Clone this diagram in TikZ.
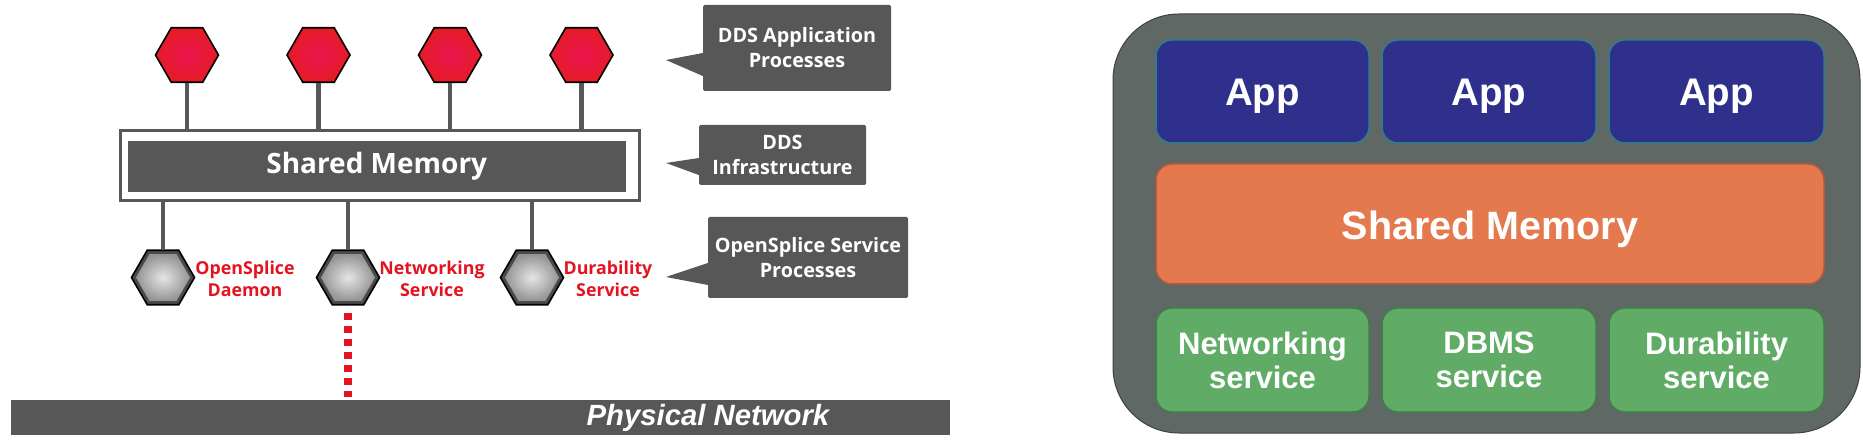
\documentclass[tikz,border=0pt]{standalone}
\usepackage{fontspec}
\setmainfont{Liberation Sans}
\newfontfamily\opensans{Open Sans}
\usetikzlibrary{shapes.geometric,calc}
\definecolor{slate}{HTML}{575757}
\definecolor{redhex}{HTML}{E41C26}
\definecolor{redcore}{HTML}{EC1450}
\definecolor{redlabel}{HTML}{E5131F}
\definecolor{panel}{HTML}{606865}
\definecolor{navy}{HTML}{2E308B}
\definecolor{navyedge}{HTML}{2F7C8C}
\definecolor{orangefill}{HTML}{E4794D}
\definecolor{orangeedge}{HTML}{B25A38}
\definecolor{greenfill}{HTML}{60AC67}
\definecolor{greenedge}{HTML}{3F8048}
\tikzset{
  x=1pt,y=-1pt,
  hexbase/.style={regular polygon,regular polygon sides=6,inner sep=0pt,minimum size=63pt,line width=1.6pt,draw=black},
  redproc/.style={hexbase,inner color=redcore,outer color=redhex},
  greyproc/.style={hexbase,fill=slate!85!black},
  greycore/.style={regular polygon,regular polygon sides=6,inner sep=0pt,minimum size=54pt,inner color=white!90!black,outer color=black!42},
  stem/.style={draw=slate,line width=4.5pt},
  slab/.style={fill=slate,text=white,inner sep=0pt,rectangle},
  calloutbox/.style={slab,rounded corners=1.5pt,align=center,font=\opensans\bfseries\fontsize{19.8}{25}\selectfont},
  redlab/.style={text=redlabel,align=center,inner sep=0pt,font=\opensans\bfseries\fontsize{17.8}{22.5}\selectfont},
  rbox/.style={rectangle,rounded corners=16pt,inner sep=0pt,line width=1.5pt,text=white,align=center},
  appbox/.style={rbox,draw=navyedge,fill=navy,text depth=0pt,font=\bfseries\fontsize{38.5}{40}\selectfont},
  svcbox/.style={rbox,draw=greenedge,fill=greenfill,font=\bfseries\fontsize{31}{34}\selectfont},
}
\newcommand{\boxat}[7]{\node[#1,minimum width=#4-#3,minimum height=#6-#5] (#2) at ({(#3+#4)/2},{(#5+#6)/2}) {#7};}
\begin{document}
\begin{tikzpicture}
\useasboundingbox (0,0) rectangle (1863,446);
% left: shared memory
\node[rectangle,draw=slate,fill=white,line width=3pt,minimum width=519pt,minimum height=70pt,inner sep=0pt,outer sep=0pt] (outer) at (379.5,166) {};
\boxat{slab,font=\opensans\bfseries\fontsize{28}{30}\selectfont}{shm}{128}{625.5}{141}{192}{Shared Memory}
% app hexagons
\foreach \n/\x in {1/187,2/318.5,3/450,4/581.5}{
  \node[redproc] (h\n) at (\x,55) {};
  \draw[stem] (h\n.south) -- (h\n.south |- outer.north);
}
% service hexagons
\foreach \n/\x in {1/163,2/348,3/532}{
  \node[greyproc] (g\n) at (\x,277.5) {};
  \node[greycore] (c\n) at (\x,277.5) {};
  \draw[stem] (g\n.north |- outer.south) -- (g\n.north);
}
\node[redlab] (l1) at (245,279) {OpenSplice\\Daemon};
\node[redlab] (l2) at (432,279) {Networking\\Service};
\node[redlab] (l3) at (608,279) {Durability\\Service};
% network
\boxat{slab}{net}{11}{950}{400}{435}{}
\node[anchor=base,text=white,inner sep=0pt,font=\bfseries\itshape\fontsize{29.3}{32}\selectfont] (netlab) at (708,425.7) {Physical Network};
\coordinate (dottop) at ($(g2.south)+(0,7)$);
\coordinate (dotend) at (g2.south |- 0,397);
\draw[draw=redlabel,line width=7.5pt,dash pattern=on 7pt off 6pt] (dottop) -- (dotend);
% callouts
\boxat{calloutbox}{c1box}{703}{891}{5}{91}{DDS Application\\Processes}
\coordinate (c1tip) at (666,60);
\fill[slate,line join=round] (c1tip) -- (c1box.west |- 0,53) -- (c1box.west |- 0,76) -- cycle;
\boxat{calloutbox}{c2box}{699}{866}{125}{185}{DDS\\Infrastructure}
\coordinate (c2tip) at (666,163);
\fill[slate,line join=round] (c2tip) -- (c2box.west |- 0,158) -- (c2box.west |- 0,175) -- cycle;
\boxat{calloutbox}{c3box}{708}{908}{217}{298}{OpenSplice Service\\Processes}
\coordinate (c3tip) at (666,277);
\fill[slate,line join=round] (c3tip) -- (c3box.west |- 0,263) -- (c3box.west |- 0,285) -- cycle;
% right panel
\node[rectangle,draw=black!75,fill=panel,line width=1pt,rounded corners=66pt,minimum width=747pt,minimum height=419pt,inner sep=0pt] (panel) at (1486.5,223.5) {};
\boxat{appbox}{a1}{1156}{1369}{40}{143}{\raisebox{-2pt}{App}}
\boxat{appbox}{a2}{1382}{1596}{40}{143}{\raisebox{-2pt}{App}}
\boxat{appbox}{a3}{1609}{1824}{40}{143}{\raisebox{-2pt}{App}}
\boxat{rbox,draw=orangeedge,fill=orangefill,text depth=0pt,font=\bfseries\fontsize{39.5}{44}\selectfont}{mem}{1156}{1824}{164}{284}{\raisebox{-2pt}{Shared Memory}}
\boxat{svcbox}{s1}{1156}{1369}{308}{412}{Networking\\service}
\boxat{svcbox}{s2}{1382}{1596}{308}{412}{DBMS\\service}
\boxat{svcbox}{s3}{1609}{1824}{308}{412}{Durability\\service}
\end{tikzpicture}
\end{document}
